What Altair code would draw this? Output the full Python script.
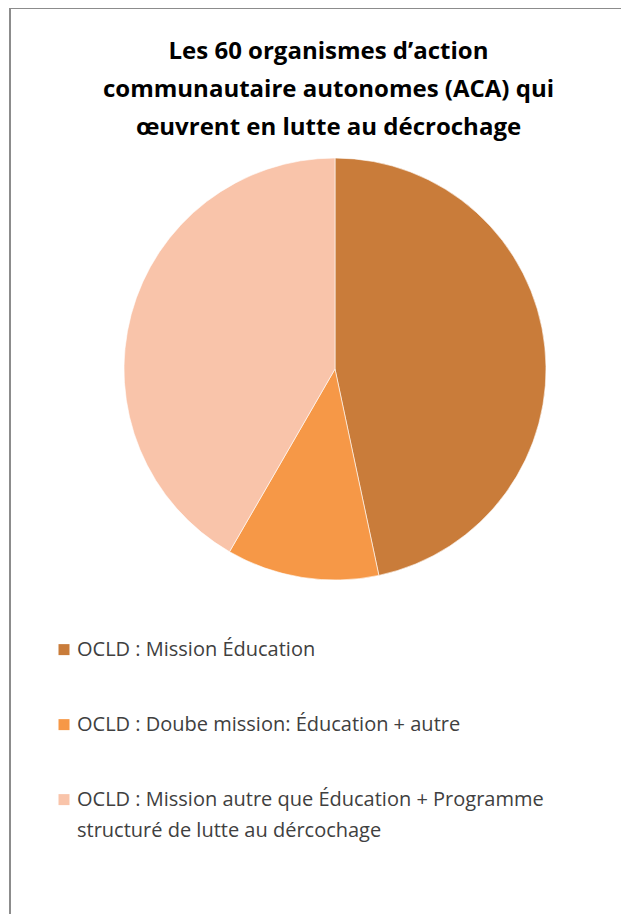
import altair as alt
import pandas as pd

categories = [
    "OCLD : Mission Éducation",
    "OCLD : Doube mission:  Éducation + autre",
    "OCLD : Mission autre que Éducation + Programme structuré de lutte au dércochage",
]
values = [28, 7, 25]
colors = ["#C97C3A", "#F69847", "#F9C4AA"]
title_lines = [
    "Les 60 organismes d’action",
    "communautaire autonomes (ACA) qui",
    "œuvrent en lutte au décrochage",
]

df = pd.DataFrame({"cat": categories, "val": values, "ord": list(range(len(values)))})

W, H = 613, 906

label_expr = (
    "datum.label == '" + categories[2] + "' ? "
    "['OCLD : Mission autre que Éducation + Programme', 'structuré de lutte au dércochage'] : datum.label"
)

pie = alt.Chart(df).mark_arc(stroke="white", strokeWidth=0.6).encode(
    theta=alt.Theta("val:Q", stack=True),
    order=alt.Order("ord:Q"),
    color=alt.Color(
        "cat:N",
        sort=categories,
        scale=alt.Scale(domain=categories, range=colors),
        legend=alt.Legend(
            title=None,
            orient="none",
            legendX=46,
            legendY=622,
            symbolType="M-1,0.75L1,0.75L1,2.75L-1,2.75Z",
            symbolSize=121,
            symbolStrokeWidth=0,
            labelFont="Open Sans",
            labelFontSize=20,
            labelColor="#404040",
            labelExpr=label_expr,
            labelLimit=600,
            labelOffset=3,
            rowPadding=45,
            labelBaseline="top",
            padding=0,
        ),
    ),
    x=alt.value(327),
    y=alt.value(361),
    radius=alt.value(211),
)

frame_left = alt.Chart(df).mark_rule(color="#8c8c8c", strokeWidth=2).encode(
    x=alt.value(2), y=alt.value(0), y2=alt.value(H)
)
frame_top = alt.Chart(df).mark_rule(color="#8c8c8c", strokeWidth=2).encode(
    x=alt.value(2), x2=alt.value(W), y=alt.value(0)
)

chart = alt.layer(frame_left, frame_top, pie).properties(
    width=W,
    height=H,
    autosize=alt.AutoSizeParams(type="none"),
    padding=0,
    title=alt.TitleParams(
        text=title_lines,
        font="Open Sans",
        fontSize=24,
        fontWeight="bold",
        color="#000000",
        lineHeight=38,
        anchor="middle",
        baseline="alphabetic",
        orient="top",
        offset=0,
        dy=152,
        dx=14,
    ),
).configure(style={"guide-label": {"lineHeight": 31}}).configure_view(stroke=None)

chart.save("out.html", embed_options={"renderer": "svg", "actions": False})
